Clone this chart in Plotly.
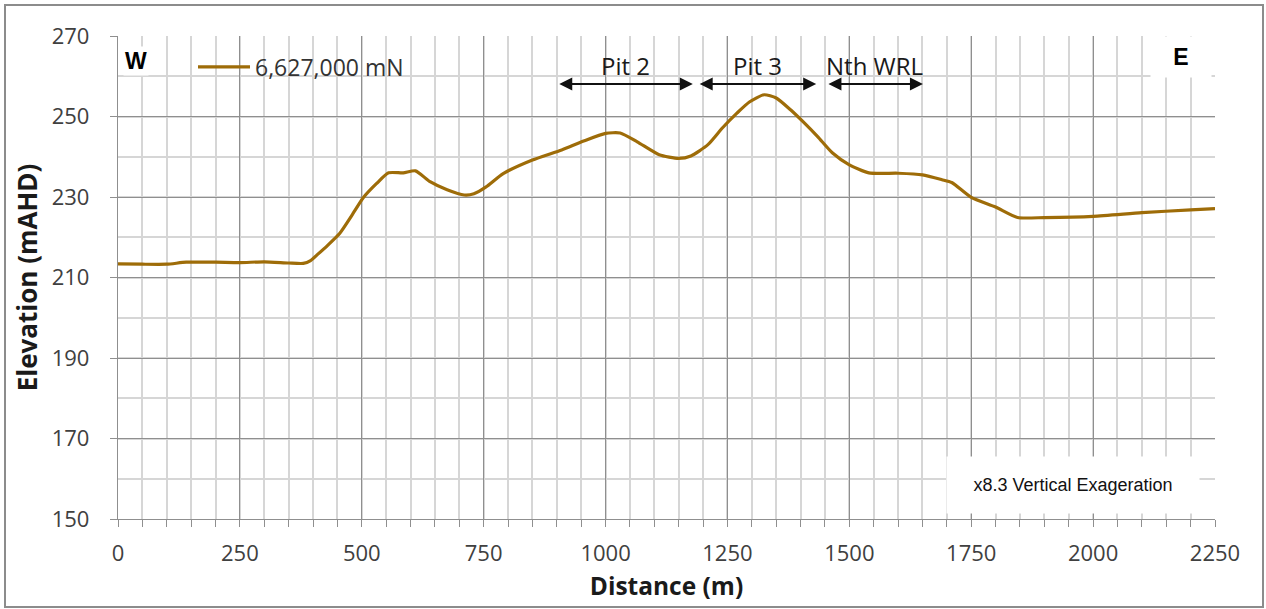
import plotly.graph_objects as go

# ---- data ----
distance_m = [0, 50, 100, 140, 200, 250, 300, 350, 380, 395, 410, 430, 455, 480, 503, 530,
              555, 585, 610, 640, 675, 710, 730, 755, 790, 850, 910, 955, 1000, 1030, 1065,
              1110, 1150, 1175, 1210, 1240, 1270, 1295, 1325, 1350, 1380, 1405, 1435,
              1465, 1500, 1540, 1600, 1650, 1690, 1710, 1750, 1800, 1845, 1900, 2000,
              2100, 2200, 2250]
elevation_mahd = [213.4, 213.3, 213.3, 213.8, 213.8, 213.7, 213.9, 213.6, 213.5, 214.2,
                  215.8, 218.0, 221.0, 225.5, 229.8, 233.3, 236.0, 236.0, 236.5, 233.8,
                  231.8, 230.5, 230.8, 232.5, 235.8, 239.2, 241.7, 243.9, 245.8, 245.9,
                  243.7, 240.5, 239.6, 240.2, 243.0, 247.2, 250.9, 253.6, 255.4, 254.6,
                  251.6, 248.7, 245.0, 241.0, 238.0, 236.0, 235.9, 235.5, 234.3, 233.6,
                  229.9, 227.5, 224.9, 224.9, 225.2, 226.1, 226.8, 227.1]
series_name = "6,627,000 mN"

zone_labels = ["Pit 2", "Pit 3", "Nth WRL"]
zone_start = [902, 1190, 1454]
zone_end = [1179, 1432, 1651]
zone_arrow_y = 258.1
zone_label_y = 262.6

x_ticks = [0, 250, 500, 750, 1000, 1250, 1500, 1750, 2000, 2250]
y_ticks = [150, 170, 190, 210, 230, 250, 270]

LINE_COLOR = "#9E6C08"
MAJOR_GRID = "#8f8f8f"
MINOR_GRID = "#d6d6d6"
TICK_FONT = dict(family="Open Sans", size=22, color="#404040")

fig = go.Figure()
fig.add_trace(go.Scatter(
    x=distance_m, y=elevation_mahd, mode="lines", name=series_name,
    line=dict(color=LINE_COLOR, width=3.2, shape="spline", smoothing=0.6),
    showlegend=True,
))

W, H = 1266, 609
L, R, T, B = 118, 51, 36, 90
pw, ph = W - L - R, H - T - B


def px_to_paper(px, py):
    return (px - L) / pw, (H - B - py) / ph


# outer border
bx0, by0 = px_to_paper(5, 607)
bx1, by1 = px_to_paper(1263, 5)
fig.add_shape(type="rect", xref="paper", yref="paper", x0=bx0, y0=by0, x1=bx1, y1=by1,
              line=dict(color="#8c8c8c", width=2), fillcolor="rgba(0,0,0,0)", layer="below")

# white box behind legend (hides gridlines)
lx0, ly0 = px_to_paper(170, 92)
lx1, ly1 = px_to_paper(428, 36)
fig.add_shape(type="rect", xref="paper", yref="paper", x0=lx0, y0=ly0, x1=lx1, y1=ly1,
              line=dict(width=0), fillcolor="white", layer="between")

# zone arrows and labels
for lab, xs, xe in zip(zone_labels, zone_start, zone_end):
    fig.add_annotation(x=xe, y=zone_arrow_y, ax=xs, ay=zone_arrow_y, xref="x", yref="y",
                       axref="x", ayref="y", text="", showarrow=True,
                       arrowside="end+start", arrowhead=2, arrowsize=1.3,
                       arrowwidth=2, arrowcolor="#111111")
    fig.add_annotation(x=(xs + xe) / 2, y=zone_label_y, xref="x", yref="y", text=lab,
                       showarrow=False, xanchor="center", yanchor="middle",
                       font=dict(family="Open Sans", size=24, color="#1a1a1a"))

# W / E labels
wx, wy = px_to_paper(136, 61)
fig.add_annotation(x=wx, y=wy, xref="paper", yref="paper", text="<b>W</b>", showarrow=False,
                   xanchor="center", yanchor="middle",
                   font=dict(family="Liberation Sans", size=23, color="black"),
                   bgcolor="white")
ex, ey = px_to_paper(1181, 57)
fig.add_annotation(x=ex, y=ey, xref="paper", yref="paper", text="<b>E</b>", showarrow=False,
                   xanchor="center", yanchor="middle",
                   font=dict(family="Liberation Sans", size=23, color="black"),
                   bgcolor="white", width=58, height=38)

# vertical exaggeration note
vx, vy = px_to_paper(1073, 484.5)
fig.add_annotation(x=vx, y=vy, xref="paper", yref="paper", text="x8.3 Vertical Exageration",
                   showarrow=False, xanchor="center", yanchor="middle",
                   font=dict(family="Liberation Sans", size=18, color="#111111"),
                   bgcolor="white", width=250, height=54)

legx, legy = px_to_paper(193, 67)
fig.update_layout(
    width=W, height=H,
    margin=dict(l=L, r=R, t=T, b=B),
    paper_bgcolor="white", plot_bgcolor="white",
    legend=dict(x=legx, y=legy, xanchor="left", yanchor="middle",
                bgcolor="rgba(0,0,0,0)", itemwidth=52,
                font=dict(family="Open Sans", size=23, color="#333333")),
    xaxis=dict(
        range=[0, 2250], tickvals=x_ticks, ticktext=[str(v) for v in x_ticks],
        showgrid=True, gridcolor=MAJOR_GRID, gridwidth=1.3,
        zeroline=False, showline=True, linecolor=MAJOR_GRID, linewidth=1.3,
        ticks="outside", ticklen=7, tickcolor=MAJOR_GRID, tickwidth=1.3,
        tickfont=TICK_FONT, ticklabelstandoff=7,
        minor=dict(dtick=50, tick0=0, showgrid=True, gridcolor=MINOR_GRID, gridwidth=2,
                   ticks="outside", ticklen=7, tickcolor=MAJOR_GRID, tickwidth=1.3),
        title=dict(text="<b>Distance (m)</b>", standoff=12,
                   font=dict(family="Open Sans", size=24.5, color="#1a1a1a")),
    ),
    yaxis=dict(
        range=[150, 270], tickvals=y_ticks, ticktext=[str(v) for v in y_ticks],
        showgrid=True, gridcolor=MAJOR_GRID, gridwidth=1.3,
        zeroline=False, showline=True, linecolor=MAJOR_GRID, linewidth=1.3,
        ticks="outside", ticklen=7, tickcolor=MAJOR_GRID, tickwidth=1.3,
        tickfont=TICK_FONT, ticklabelstandoff=16,
        minor=dict(dtick=10, tick0=150, showgrid=True, gridcolor=MINOR_GRID, gridwidth=2,
                   ticks=""),
        title=dict(text="<b>Elevation (mAHD)</b>", standoff=6,
                   font=dict(family="Open Sans", size=26, color="#1a1a1a")),
    ),
)

fig.write_html(
    "out.html",
    config={"displayModeBar": False},
    post_script="document.body.style.margin='0';document.body.style.overflow='hidden';",
)
